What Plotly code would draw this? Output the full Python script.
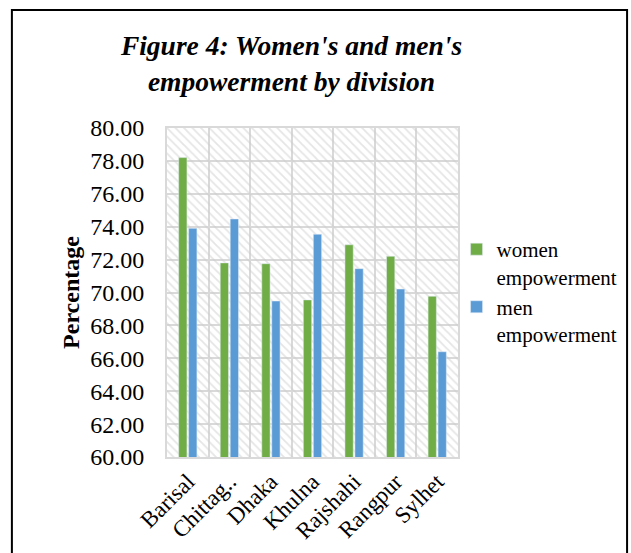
import plotly.graph_objects as go

divisions = ["Barisal", "Chittag..", "Dhaka", "Khulna", "Rajshahi", "Rangpur", "Sylhet"]
women = [78.2, 71.8, 71.75, 69.55, 72.9, 72.2, 69.77]
men = [73.9, 74.47, 69.48, 73.54, 71.45, 70.21, 66.4]

FONT = "Liberation Serif"
GRID = "#d9d9d9"

fig = go.Figure()

# hatched plot-area background (decoration on hidden unit axes)
fig.add_trace(go.Scatter(
    x=[0, 1, 1, 0, 0], y=[0, 0, 1, 1, 0], mode="lines", fill="toself",
    line=dict(width=0), fillcolor="rgba(0,0,0,0)",
    fillpattern=dict(shape="\\", fgcolor="#cccccc", bgcolor="rgba(0,0,0,0)",
                     size=6, solidity=0.3),
    hoverinfo="skip", showlegend=False, xaxis="x", yaxis="y"))

fig.add_trace(go.Bar(x=divisions, y=women, name="women<br>empowerment",
                     marker_color="#70AD47", xaxis="x2", yaxis="y2"))
fig.add_trace(go.Bar(x=divisions, y=men, name="men<br>empowerment",
                     marker_color="#5B9BD5", xaxis="x2", yaxis="y2"))

fig.update_layout(
    width=631, height=553,
    margin=dict(l=167, r=173, t=128, b=96, autoexpand=False),
    paper_bgcolor="white", plot_bgcolor="white",
    font=dict(family=FONT, color="black"),
    barmode="group", bargap=0.52, bargroupgap=0.17,
    title=dict(text="Figure 4: Women's and men's<br>empowerment by division",
               xref="container", x=0.462, xanchor="center",
               yref="container", y=0.9, yanchor="top",
               font=dict(family=FONT, size=27.5, weight="bold", style="italic")),
    xaxis=dict(range=[0, 1], visible=False, fixedrange=True),
    yaxis=dict(range=[0, 1], visible=False, fixedrange=True),
    xaxis2=dict(overlaying="x", type="category", range=[-0.5, 6.5],
                tickson="boundaries", showgrid=True, gridcolor=GRID, gridwidth=2,
                showline=True, linecolor=GRID, linewidth=2, mirror=True,
                ticks="", tickangle=-45, tickfont=dict(size=23, family=FONT)),
    yaxis2=dict(overlaying="y", range=[60, 80], dtick=2, tickformat=".2f",
                showgrid=True, gridcolor=GRID, gridwidth=2,
                showline=True, linecolor=GRID, linewidth=2, mirror=True,
                ticks="", ticklabelstandoff=16, tickfont=dict(size=24, family=FONT),
                title=dict(text="<b>Percentage</b>", standoff=4,
                           font=dict(size=24, family=FONT))),
    legend=dict(x=0.995, y=0.693, xanchor="left", yanchor="top", valign="top",
                font=dict(size=21, family=FONT), tracegroupgap=3,
                itemwidth=30, bgcolor="rgba(0,0,0,0)"),
    shapes=[dict(type="rect", xref="paper", yref="paper",
                 x0=-0.533, x1=1.581, y0=-0.4, y1=1.359,
                 line=dict(color="black", width=2), fillcolor="rgba(0,0,0,0)")],
)

fig.write_html("out.html")
